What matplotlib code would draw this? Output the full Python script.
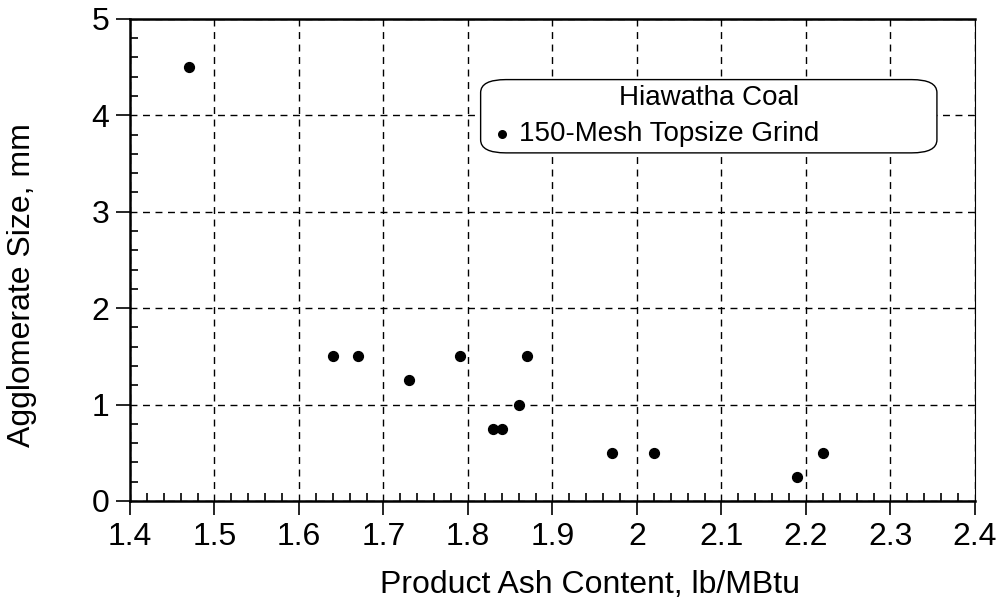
import matplotlib.pyplot as plt
from matplotlib.ticker import MultipleLocator
from matplotlib.patches import FancyBboxPatch

plt.rcParams['font.family'] = ['Liberation Sans', 'DejaVu Sans']

# product ash (lb/MBtu) vs agglomerate size (mm)
ash_content = [1.47, 1.64, 1.67, 1.73, 1.79, 1.83, 1.84, 1.86, 1.87, 1.97, 2.02, 2.19, 2.22]
agglom_size = [4.5, 1.5, 1.5, 1.25, 1.5, 0.75, 0.75, 1.0, 1.5, 0.5, 0.5, 0.25, 0.5]
x_ticks = [1.4, 1.5, 1.6, 1.7, 1.8, 1.9, 2.0, 2.1, 2.2, 2.3, 2.4]
x_labels = ['1.4', '1.5', '1.6', '1.7', '1.8', '1.9', '2', '2.1', '2.2', '2.3', '2.4']
y_ticks = [0, 1, 2, 3, 4, 5]

fig = plt.figure(figsize=(10.02, 6.08), dpi=100)
ax = fig.add_axes([0.1297, 0.176, 0.8433, 0.793])

ax.scatter(ash_content, agglom_size, s=50, color='black', zorder=3)

ax.set_xlim(1.4, 2.4)
ax.set_ylim(0, 5)
ax.set_xticks(x_ticks)
ax.set_xticklabels(x_labels)
ax.set_yticks(y_ticks)
ax.xaxis.set_minor_locator(MultipleLocator(0.02))
ax.yaxis.set_minor_locator(MultipleLocator(0.2))
ax.tick_params(which='major', direction='out', length=10, width=1.2, labelsize=23, pad=5)
ax.tick_params(which='minor', direction='in', length=6, width=1.2)
ax.grid(True, which='major', color='black', linestyle=(0, (5, 4)), linewidth=1.0)

for side in ['left', 'bottom', 'top']:
    ax.spines[side].set_linewidth(1.8)
ax.spines['right'].set_linewidth(0.8)

ax.set_xlabel('Product Ash Content, lb/MBtu', fontsize=23, va='center')
ax.set_ylabel('Agglomerate Size, mm', fontsize=23, va='center')
ax.xaxis.set_label_coords(0.544, -0.174)
ax.yaxis.set_label_coords(-0.128, 0.448)

# legend box with rounded corners
box = FancyBboxPatch((1.815, 3.61), 0.54, 0.76, boxstyle='round,pad=0,rounding_size=0.03',
                     transform=ax.transData, facecolor='white', edgecolor='black',
                     linewidth=1.0, zorder=4, mutation_aspect=4.5)
ax.add_patch(box)
ax.text(2.085, 4.18, 'Hiawatha Coal', fontsize=20, ha='center', va='center', zorder=5)
ax.scatter([1.840], [3.81], s=30, color='black', zorder=5)
ax.text(1.861, 3.81, '150-Mesh Topsize Grind', fontsize=20, ha='left', va='center', zorder=5)

fig.savefig('out.png', dpi=100)
